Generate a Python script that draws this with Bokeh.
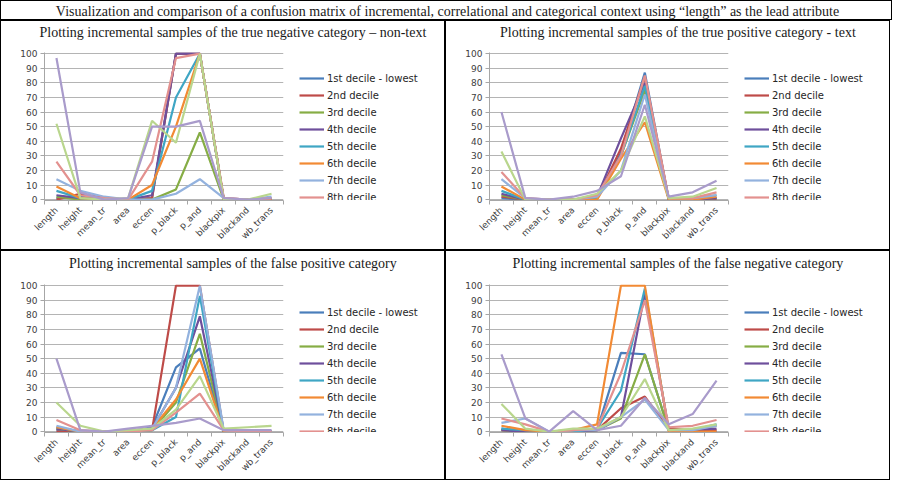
import math
from bokeh.plotting import figure
from bokeh.models import Range1d, FixedTicker, Legend, LegendItem
from bokeh.layouts import column, row
from bokeh.core.properties import value
from bokeh.embed import file_html
from bokeh.resources import INLINE

header_text = "Visualization and comparison of a confusion matrix of incremental, correlational and categorical context using \u201clength\u201d as the lead attribute"

categories = ["length", "height", "mean_tr", "area", "eccen", "p_black", "p_and", "blackpix", "blackand", "wb_trans"]
deciles = ["1st decile - lowest", "2nd decile", "3rd decile", "4th decile", "5th decile",
           "6th decile", "7th decile", "8th decile", "9th decile", "10th decile - highest"]
colors = ["#4a7ebb", "#be4b48", "#86ad45", "#6e4f9c", "#3fa6c4", "#f28a34",
          "#93b2de", "#e3918f", "#b9d68d", "#a99bcb"]
y_ticks = [0, 10, 20, 30, 40, 50, 60, 70, 80, 90, 100]

title_tn = "Plotting incremental samples of the true negative category \u2013 non-text"
title_tp = "Plotting incremental samples of the true positive category - text"
title_fp = "Plotting incremental samples of the false positive category"
title_fn = "Plotting incremental samples of the false negative category"

tn_values = [
    [1, 2, 0, 0, 1, 100, 100, 0, 0, 0],
    [0, 4, 1, 0, 1, 100, 100, 1, 0, 0],
    [2, 0, 0, 0, 0, 7, 46, 0, 0, 0],
    [3, 1, 0, 0, 3, 100, 100, 0, 0, 0],
    [6, 1, 0, 0, 6, 70, 100, 0, 0, 1],
    [9, 1, 0, 0, 10, 50, 100, 0, 0, 0],
    [14, 6, 2, 0, 0, 4, 14, 1, 0, 2],
    [26, 3, 1, 0, 26, 97, 100, 1, 0, 1],
    [52, 1, 0, 1, 54, 39, 100, 0, 0, 4],
    [97, 5, 0, 1, 50, 50, 54, 1, 0, 1],
]
tp_values = [
    [1, 0, 0, 0, 1, 32, 87, 0, 0, 1],
    [2, 0, 0, 0, 1, 35, 84, 0, 0, 0],
    [3, 0, 0, 0, 1, 30, 75, 0, 0, 1],
    [4, 0, 0, 0, 2, 42, 80, 0, 0, 1],
    [6, 0, 0, 0, 1, 30, 78, 0, 1, 3],
    [9, 0, 0, 0, 0, 28, 53, 0, 0, 2],
    [14, 1, 0, 0, 2, 20, 72, 1, 1, 3],
    [19, 1, 0, 0, 3, 30, 85, 1, 1, 5],
    [33, 0, 0, 0, 4, 20, 57, 1, 2, 8],
    [60, 1, 0, 2, 6, 16, 65, 2, 5, 13],
]
fp_values = [
    [1, 0, 0, 0, 3, 44, 57, 0, 0, 0],
    [0, 0, 0, 0, 1, 100, 100, 0, 0, 0],
    [2, 0, 0, 0, 1, 20, 67, 0, 0, 0],
    [2, 0, 0, 0, 2, 30, 79, 0, 0, 0],
    [3, 0, 0, 0, 1, 10, 93, 0, 0, 0],
    [3, 0, 0, 0, 2, 22, 50, 0, 0, 0],
    [4, 0, 0, 0, 2, 30, 100, 1, 0, 0],
    [8, 1, 0, 0, 1, 13, 26, 1, 0, 0],
    [20, 4, 0, 1, 2, 15, 38, 2, 3, 4],
    [50, 1, 0, 2, 4, 6, 9, 1, 1, 1],
]
fn_values = [
    [2, 0, 0, 0, 1, 54, 53, 1, 0, 0],
    [1, 0, 0, 0, 1, 16, 24, 2, 1, 1],
    [1, 0, 0, 0, 1, 9, 53, 1, 1, 4],
    [1, 0, 0, 0, 1, 10, 95, 1, 1, 2],
    [2, 1, 0, 0, 2, 28, 98, 1, 1, 5],
    [4, 1, 0, 1, 5, 100, 100, 0, 0, 0],
    [6, 9, 0, 1, 1, 10, 22, 1, 1, 4],
    [9, 5, 0, 1, 2, 40, 90, 3, 4, 8],
    [19, 2, 0, 2, 2, 10, 36, 1, 2, 5],
    [53, 9, 0, 14, 1, 4, 23, 5, 12, 35],
]

SERIF = "Liberation Serif"
SANS = "DejaVu Sans"
LINE = "1px solid #000"

CELL_INNER_W = 445          # canvas width of a table cell (plus 1px border each side)
CHART_W = 287               # canvas width of the chart part of a cell
LEG_W = CELL_INNER_W - CHART_W
FRAME_H = 148


def text_fig(txt, w, h, x, styles):
    f = figure(width=w, height=h, x_range=Range1d(0, 1), y_range=Range1d(0, 1),
               x_axis_type=None, y_axis_type=None, min_border=0,
               outline_line_color=None, toolbar_location=None, output_backend="svg",
               styles=styles)
    f.text(x=[x], y=[0.5], text=[txt], text_align="center", text_baseline="middle",
           text_font=value(SERIF), text_font_size="14px", text_color="#1a1a1a")
    return f


def chart(values, height):
    centers = [i + 0.5 for i in range(len(categories))]
    top = 11
    p = figure(width=CHART_W, height=height, x_range=Range1d(0, len(categories)),
               y_range=Range1d(-0.6, 100.8),
               min_border_left=43, min_border_right=5, min_border_top=top,
               min_border_bottom=height - top - FRAME_H,
               toolbar_location=None, output_backend="svg", outline_line_color=None,
               styles={"border-left": LINE, "border-bottom": LINE})
    for col, vals in zip(colors, values):
        p.line(centers, vals, line_color=col, line_width=2.2)
    p.xgrid.visible = False
    p.ygrid.grid_line_color = "#b4b4b4"
    p.ygrid.grid_line_width = 1
    p.ygrid.ticker = FixedTicker(ticks=y_ticks)

    ya = p.yaxis[0]
    ya.ticker = FixedTicker(ticks=y_ticks)
    ya.axis_line_color = "#a6a6a6"
    ya.major_tick_line_color = "#a6a6a6"
    ya.major_tick_out = 4
    ya.major_tick_in = 0
    ya.minor_tick_line_color = None
    ya.major_label_text_font = SANS
    ya.major_label_text_font_size = "9px"
    ya.major_label_text_color = "#404040"
    ya.major_label_standoff = 3

    xa = p.xaxis[0]
    xa.ticker = FixedTicker(ticks=centers, minor_ticks=list(range(len(categories) + 1)))
    xa.major_label_overrides = {c: lab for c, lab in zip(centers, categories)}
    xa.axis_line_color = "#a6a6a6"
    xa.major_tick_line_color = None
    xa.major_tick_out = 0
    xa.minor_tick_line_color = "#a6a6a6"
    xa.minor_tick_out = 4
    xa.minor_tick_in = 0
    xa.major_label_orientation = math.pi / 4
    xa.major_label_text_font = SANS
    xa.major_label_text_font_size = "9px"
    xa.major_label_text_color = "#404040"
    xa.major_label_standoff = 4
    return p


def legend_fig(values, height):
    # separate canvas to the right of the chart that holds the legend
    centers = [i + 0.5 for i in range(len(categories))]
    f = figure(width=LEG_W, height=height, x_range=Range1d(-30, -20), y_range=Range1d(0, 100),
               x_axis_type=None, y_axis_type=None, min_border=0,
               outline_line_color=None, toolbar_location=None, output_backend="svg",
               styles={"border-right": LINE, "border-bottom": LINE})
    items = []
    for name, col, vals in zip(deciles, colors, values):
        r = f.line(centers, vals, line_color=col, line_width=2.2)
        items.append(LegendItem(label=name, renderers=[r]))
    n = len(items)
    leg_h = n * 14 + (n - 1) * 3
    first_top = 11 + 8
    legend = Legend(items=items, location=(12, height - first_top - leg_h - 61),
                    glyph_width=25, glyph_height=14, label_height=14, spacing=3,
                    padding=0, margin=0, label_standoff=3,
                    border_line_color=None, background_fill_alpha=0,
                    label_text_font=SANS, label_text_font_size="10px",
                    label_text_color="#262626")
    f.add_layout(legend)
    return f


def title_row(t1, t2, h):
    st = {"border-left": LINE, "border-right": LINE, "border-top": LINE}
    return row(text_fig(t1, CELL_INNER_W, h, 0.52, st),
               text_fig(t2, CELL_INNER_W, h, 0.52, st), spacing=0)


def chart_row(v1, v2, h):
    return row(chart(v1, h), legend_fig(v1, h), chart(v2, h), legend_fig(v2, h), spacing=0)


header = text_fig(header_text, 892, 20, 0.5, {"border": LINE})

layout = column(header,
                title_row(title_tn, title_tp, 21),
                chart_row(tn_values, tp_values, 209),
                title_row(title_fp, title_fn, 23),
                chart_row(fp_values, fn_values, 207),
                spacing=0)

open("out.html", "w").write(file_html(layout, INLINE))
